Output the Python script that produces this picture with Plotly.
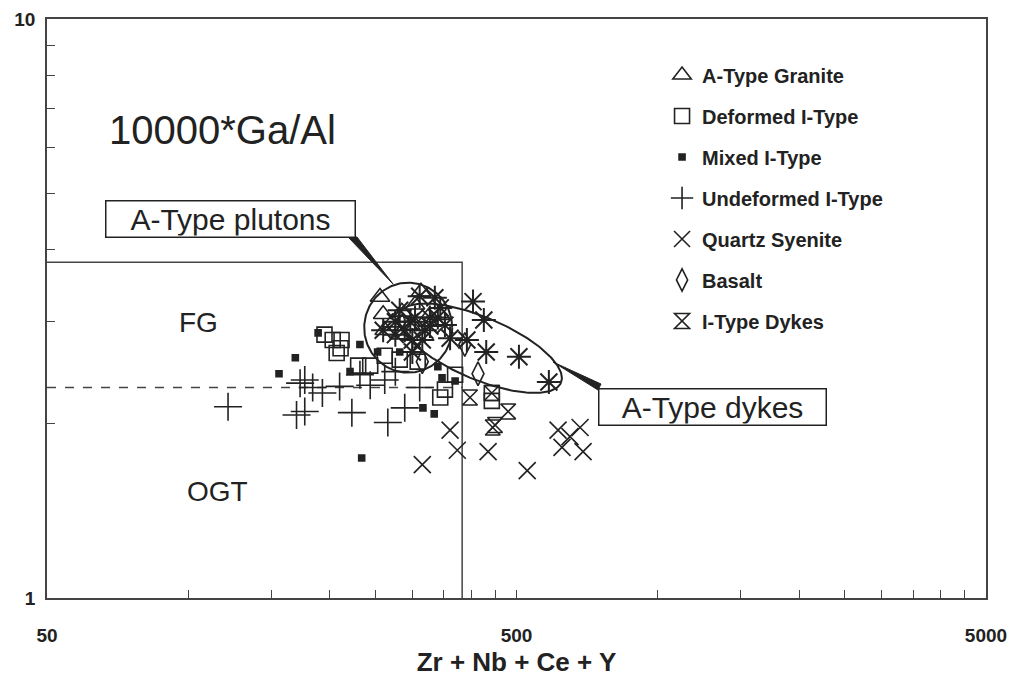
import numpy as np
import plotly.graph_objects as go

# ---------------- data (Zr+Nb+Ce+Y , 10000*Ga/Al) ----------------
a_granite_x = [256, 313, 260, 285, 272, 297, 262, 324, 344, 282, 304]
a_granite_y = [3.31, 3.38, 3.09, 3.12, 2.99, 2.96, 2.90, 3.05, 3.08, 2.85, 3.21]

deformed_x = [195, 203, 212, 211, 207, 230, 244, 262, 282, 344, 352, 370, 443, 443, 308]
deformed_y = [2.85, 2.79, 2.79, 2.70, 2.65, 2.52, 2.52, 2.62, 2.58, 2.22, 2.29, 2.43, 2.26, 2.19, 2.56]

mixed_x = [169, 156, 189, 234, 316, 334, 340, 347, 370, 232, 253, 282, 221]
mixed_y = [2.60, 2.44, 2.87, 1.745, 2.13, 2.08, 2.51, 2.40, 2.37, 2.74, 2.66, 2.66, 2.46]

undeformed_x = [121.5, 170, 177, 173, 177, 184, 193, 210, 223, 266, 289, 311, 244, 262, 232, 276]
undeformed_y = [2.14, 2.07, 2.10, 2.35, 2.38, 2.31, 2.26, 2.32, 2.09, 2.01, 2.13, 2.31, 2.33, 2.38, 2.43, 2.46]

syenite_x = [315, 361, 374, 435, 527, 613, 683, 650, 625, 693]
syenite_y = [1.70, 1.95, 1.80, 1.79, 1.66, 1.95, 1.97, 1.90, 1.82, 1.79]

basalt_x = [414, 315, 388]
basalt_y = [2.44, 2.56, 2.74]

i_dykes_x = [398, 443, 480, 450, 445]
i_dykes_y = [2.22, 2.26, 2.10, 1.99, 1.97]

a_dykes_x = [311, 344, 327, 297, 319, 276, 300, 404, 426, 361, 392, 431, 506, 586, 335,
             282, 304, 289, 327, 340, 315, 276, 260, 300, 352]
a_dykes_y = [3.32, 3.17, 3.05, 3.00, 2.90, 2.85, 2.79, 3.25, 3.02, 2.81, 2.79, 2.66, 2.61, 2.36, 3.30,
             3.14, 3.05, 2.90, 2.95, 3.05, 2.79, 3.00, 2.90, 2.66, 2.96]

# field boundaries
fg_top = 3.8
fg_ogt = 2.31
sum_limit = 383

x_range = [50, 5000]
y_range = [1, 10]

x_minor_ticks = [100, 150, 200, 250, 300, 350, 400, 450, 500,
                 1000, 1500, 2000, 2500, 3000, 3500, 4000, 4500]
y_minor_ticks = [2, 3, 4, 5, 6, 7, 8, 9]
x_labels = [50, 500, 5000]
y_labels = [1, 10]

INK = "#222222"
FONT = "Liberation Sans"

fig = go.Figure()

# boundaries
fig.add_trace(go.Scatter(x=[x_range[0], sum_limit, sum_limit], y=[fg_top, fg_top, y_range[0]],
                         mode="lines", line=dict(color="#444", width=1.5), showlegend=False, hoverinfo="skip"))
fig.add_trace(go.Scatter(x=[x_range[0], sum_limit], y=[fg_ogt, fg_ogt],
                         mode="lines", line=dict(color="#444", width=1.5, dash="dash"), showlegend=False, hoverinfo="skip"))

# ellipses (defined in log space with plot aspect)
SX, SY = 469.5, 579.0  # px per decade on each axis


def ellipse(cx, cy, a, b, theta_deg):
    t = np.linspace(0, 2 * np.pi, 200)
    th = np.deg2rad(theta_deg)
    u0, v0 = np.log10(cx) * SX, np.log10(cy) * SY
    u = u0 + a * np.cos(t) * np.cos(th) - b * np.sin(t) * np.sin(th)
    v = v0 + a * np.cos(t) * np.sin(th) + b * np.sin(t) * np.cos(th)
    return 10 ** (u / SX), 10 ** (v / SY)


ex, ey = ellipse(294, 2.93, 44, 45, 0)
fig.add_trace(go.Scatter(x=ex, y=ey, mode="lines", line=dict(color=INK, width=2),
                         showlegend=False, hoverinfo="skip"))
ex, ey = ellipse(418, 2.70, 88, 31, -23)
fig.add_trace(go.Scatter(x=ex, y=ey, mode="lines", line=dict(color=INK, width=2),
                         showlegend=False, hoverinfo="skip"))

mline = dict(color=INK, width=1.6)
series = [
    ("A-Type Granite", a_granite_x, a_granite_y, "triangle-up-open", 17),
    ("Deformed I-Type", deformed_x, deformed_y, "square-open", 15),
    ("Mixed I-Type", mixed_x, mixed_y, "square", 6),
    ("Undeformed I-Type", undeformed_x, undeformed_y, "cross-thin-open", 20),
    ("Quartz Syenite", syenite_x, syenite_y, "x-thin-open", 17),
    ("Basalt", basalt_x, basalt_y, "diamond-tall-open", 17),
    ("I-Type Dykes", i_dykes_x, i_dykes_y, "hourglass-open", 15),
]
fig.add_trace(go.Scatter(x=a_dykes_x, y=a_dykes_y, mode="markers", showlegend=False,
                         marker=dict(symbol="asterisk-open", size=20, color=INK, line=dict(color=INK, width=2))))
for name, xs, ys, sym, sz in series:
    fig.add_trace(go.Scatter(x=xs, y=ys, mode="markers", name=name, legendgroup=name,
                             marker=dict(symbol=sym, size=sz, color=INK, line=mline)))

fig.update_xaxes(type="log", range=[np.log10(x_range[0]), np.log10(x_range[1])], automargin=False,
                 showline=True, linecolor="#444", linewidth=1.5, mirror=True, showgrid=False, zeroline=False,
                 tickmode="array", tickvals=x_labels, ticktext=[str(v) for v in x_labels],
                 ticks="", ticklabelstandoff=19,
                 tickfont=dict(family=FONT, size=19, color=INK, weight="bold"),
                 minor=dict(tickmode="array", tickvals=x_minor_ticks, ticks="inside", ticklen=8,
                            tickcolor="#444", tickwidth=1, showgrid=False),
                 title=dict(text="Zr + Nb + Ce + Y", font=dict(family=FONT, size=26, color=INK, weight="bold"),
                            standoff=8))
fig.update_yaxes(type="log", range=[np.log10(y_range[0]), np.log10(y_range[1])], automargin=False,
                 showline=True, linecolor="#444", linewidth=1.5, mirror=True, showgrid=False, zeroline=False,
                 tickmode="array", tickvals=y_labels, ticktext=[str(v) for v in y_labels],
                 ticks="", ticklabelstandoff=6,
                 tickfont=dict(family=FONT, size=19, color=INK, weight="bold"),
                 minor=dict(tickmode="array", tickvals=y_minor_ticks, ticks="inside", ticklen=8,
                            tickcolor="#444", tickwidth=1, showgrid=False))

L, R, T, B = 47, 32, 19, 79
W, H = 1018, 677
pw, ph = W - L - R, H - T - B


def px(xp, yp):
    return (xp - L) / pw, (H - B - yp) / ph


annotations = [
    dict(text="10000*Ga/Al", pos=(222, 130), size=40, box=None),
    dict(text="FG", pos=(198, 322), size=28, box=None),
    dict(text="OGT", pos=(217, 492), size=28, box=None),
    dict(text="A-Type plutons", pos=(230, 218.5), size=30, box=(246, 33)),
    dict(text="A-Type dykes", pos=(712, 406.5), size=30, box=(224, 33)),
]
for a in annotations:
    x, y = px(*a["pos"])
    kw = {}
    if a["box"]:
        kw = dict(bordercolor=INK, borderwidth=1.5, borderpad=1, bgcolor="white",
                  width=a["box"][0], height=a["box"][1], align="center", valign="middle")
    fig.add_annotation(x=x, y=y, xref="paper", yref="paper", text=a["text"], showarrow=False,
                       xanchor="center", yanchor="middle",
                       font=dict(family=FONT, size=a["size"], color=INK), **kw)

# callout wedges
def wedge(pts):
    s = "M " + " L ".join(f"{px(*p)[0]:.4f},{px(*p)[1]:.4f}" for p in pts) + " Z"
    return s


fig.add_shape(type="path", xref="paper", yref="paper", path=wedge([(348, 237), (357, 237), (393, 284)]),
              fillcolor=INK, line=dict(color=INK, width=1))
fig.add_shape(type="path", xref="paper", yref="paper", path=wedge([(553, 362), (601, 384), (598, 390)]),
              fillcolor=INK, line=dict(color=INK, width=1))

fig.update_layout(
    width=W, height=H, margin=dict(l=L, r=R, t=T, b=B),
    paper_bgcolor="white", plot_bgcolor="white",
    font=dict(family=FONT, color=INK),
    legend=dict(x=0.655, y=0.937, xanchor="left", yanchor="top", bgcolor="rgba(0,0,0,0)",
                font=dict(family=FONT, size=20, color=INK, weight="bold"),
                tracegroupgap=12, itemwidth=30),
)

fig.write_html("out.html")
